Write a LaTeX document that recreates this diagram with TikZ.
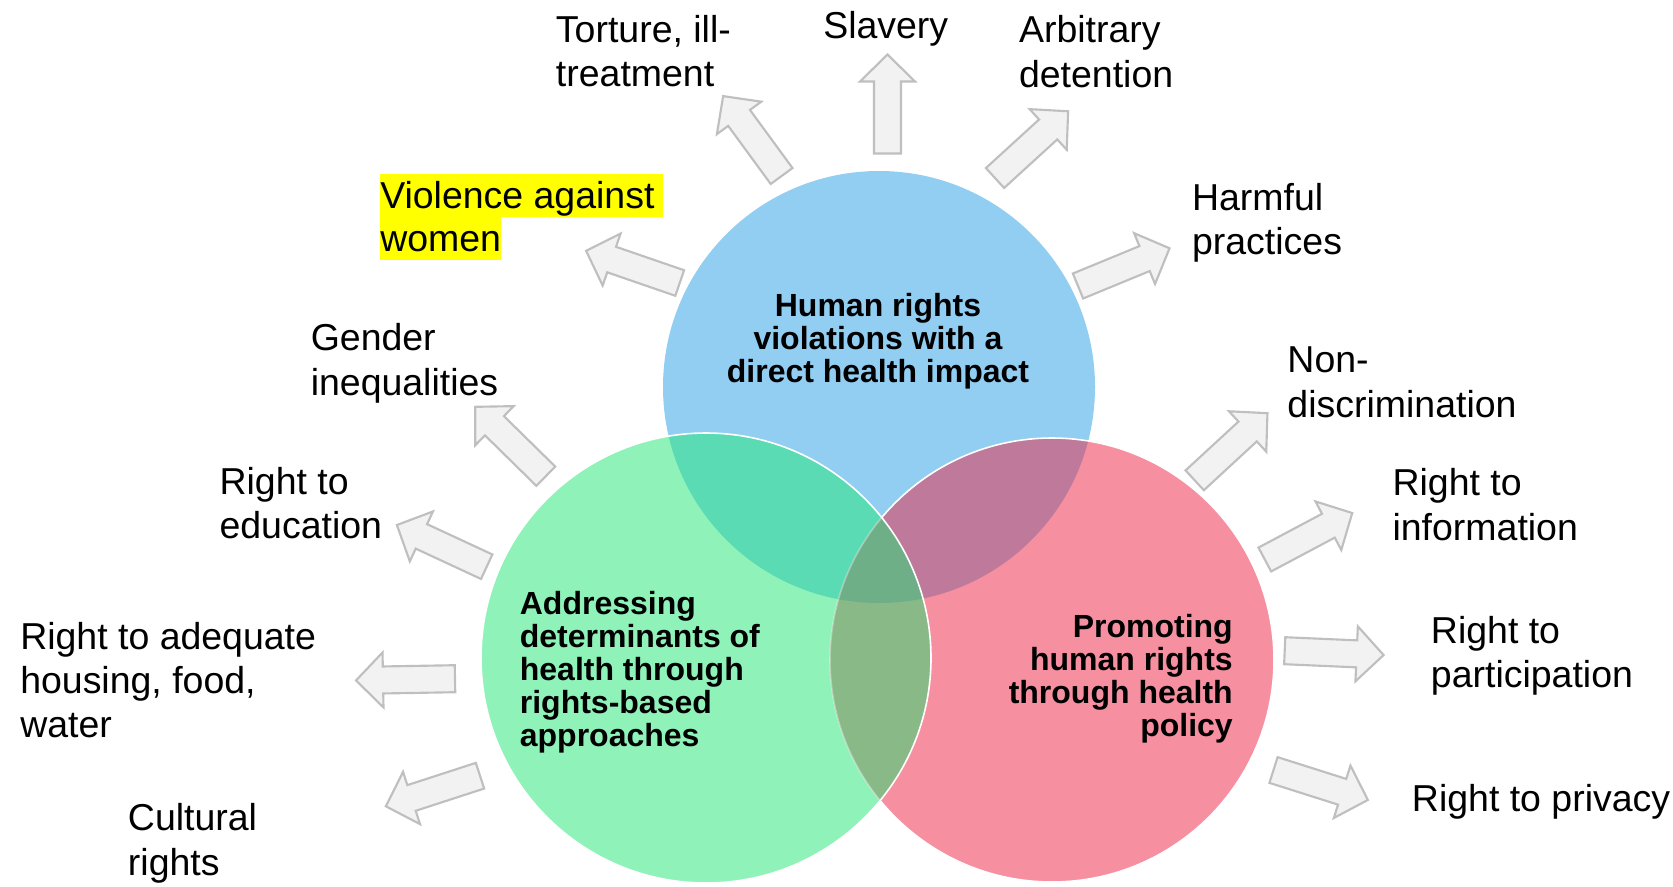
\documentclass[tikz,border=0pt]{standalone}
\usepackage{fontspec}
\setmainfont{Liberation Sans}
\definecolor{cblue}{HTML}{92CDF2}
\definecolor{cgreen}{HTML}{8FF2B9}
\definecolor{cpink}{HTML}{F690A0}
\definecolor{cbg}{HTML}{5BDBB4}
\definecolor{cbp}{HTML}{BF799A}
\definecolor{cgp}{HTML}{89B987}
\definecolor{cbgp}{HTML}{6EAF87}
\definecolor{arrowfill}{HTML}{F2F2F2}
\definecolor{arrowline}{HTML}{BFBFBF}
\definecolor{hilite}{HTML}{FFFF00}
\tikzset{
  arrowbox/.style={fill=arrowfill, draw=arrowline, line width=1.6pt, line join=miter},
  blockarrow/.pic={
    \path[arrowbox] (0pt,-10.125pt) -- (54pt,-10.125pt) -- (54pt,-20.625pt)
      -- (74.25pt,0pt) -- (54pt,20.625pt) -- (54pt,10.125pt) -- (0pt,10.125pt) -- cycle;
  },
  lbl/.style={font=\fontsize{28.1}{33.2}\selectfont, inner sep=0pt, align=left, anchor=north west},
  hl/.style={font=\fontsize{28.1}{33.2}\selectfont, inner sep=0pt, fill=hilite,
    text height=25.5pt, text depth=6.4pt, anchor=base west},
  ctext/.style={font=\bfseries\fontsize{24}{24.75}\selectfont, inner sep=0pt},
  rim/.style={draw=white, line width=1.2pt}
}
\begin{document}
\begin{tikzpicture}[x=0.75pt, y=-0.75pt]
\useasboundingbox (0,0) rectangle (1673,886);

% circle centres
\coordinate (B) at (879,387);
\coordinate (G) at (706,658);
\coordinate (P) at (1052,660);

% plain discs
\fill[cblue]  (B) circle[radius=216];
\fill[cgreen] (G) circle[radius=225];
\fill[cpink]  (P) circle[radius=222];
% pairwise overlaps
\begin{scope}
  \clip (B) circle[radius=216];
  \fill[cbg] (G) circle[radius=225];
  \fill[cbp] (P) circle[radius=222];
\end{scope}
\begin{scope}
  \clip (G) circle[radius=225];
  \fill[cgp] (P) circle[radius=222];
\end{scope}
% triple overlap
\begin{scope}
  \clip (B) circle[radius=216];
  \clip (G) circle[radius=225];
  \fill[cbgp] (P) circle[radius=222];
\end{scope}
% white rims
\begin{scope}
  \clip (0,0) rectangle (1673,886) (G) circle[radius=225];
  \draw[rim] (P) circle[radius=222];
\end{scope}
\begin{scope}
  \clip (G) circle[radius=225];
  \draw[rim, draw opacity=0.35] (P) circle[radius=222];
\end{scope}
\draw[rim] (G) circle[radius=225];

% circle captions
\node[ctext, align=center, anchor=north] (tB) at (878,293)
  {Human rights\\violations with a\\direct health impact};
\node[ctext, align=left, anchor=north west] (tG) at (519.6,591)
  {Addressing\\determinants of\\health through\\rights-based\\approaches};
\node[ctext, align=right, anchor=north east] (tP) at (1233,614.5)
  {Promoting\\human rights\\through health\\policy};

% arrow bases
\coordinate (a1)  at (781.6,176);
\coordinate (a2)  at (887.5,153.5);
\coordinate (a3)  at (995,178);
\coordinate (a4)  at (1078,286);
\coordinate (a5)  at (679.7,283);
\coordinate (a6)  at (545.8,476.2);
\coordinate (a7)  at (486.7,566.7);
\coordinate (a8)  at (455,678.7);
\coordinate (a9)  at (480,775.7);
\coordinate (a10) at (1194.7,480.3);
\coordinate (a11) at (1264.8,559.5);
\coordinate (a12) at (1284.7,650.7);
\coordinate (a13) at (1273.5,770);

\pic[rotate=126.2] at (a1)  {blockarrow};
\pic[rotate=90]    at (a2)  {blockarrow};
\pic[rotate=42.4]  at (a3)  {blockarrow};
\pic[rotate=22.4]  at (a4)  {blockarrow};
\pic[rotate=161]   at (a5)  {blockarrow};
\pic[rotate=135.5] at (a6)  {blockarrow};
\pic[rotate=155.1] at (a7)  {blockarrow};
\pic[rotate=181]   at (a8)  {blockarrow};
\pic[rotate=198]   at (a9)  {blockarrow};
\pic[rotate=42.7]  at (a10) {blockarrow};
\pic[rotate=28]    at (a11) {blockarrow};
\pic[rotate=-2.5]  at (a12) {blockarrow};
\pic[rotate=-17.6] at (a13) {blockarrow};

% outer labels
\node[lbl] (l1) at (555.7,15.1) {Torture, ill-\\treatment};
\node[lbl] (l2) at (823,10.7) {Slavery};
\node[lbl] (l3) at (1018.8,15.4) {Arbitrary\\detention};
\node[lbl] (l4) at (1191.8,182.7) {Harmful\\practices};
\node[hl]  (l5a) at (380,208) {Violence against\kern6pt};
\node[hl]  (l5b) at (380,251) {women};
\node[lbl] (l6) at (310.5,323.4) {Gender\\inequalities};
\node[lbl] (l7) at (219.3,466.7) {Right to\\education};
\node[lbl] (l8) at (20,621.7) {Right to adequate\\housing, food,\\water};
\node[lbl] (l9) at (127.7,803.4) {Cultural\\rights};
\node[lbl] (l10) at (1287.2,346.7) {Non-\\discrimination};
\node[lbl] (l11) at (1392.3,468.4) {Right to\\information};
\node[lbl] (l12) at (1430.7,616.1) {Right to\\participation};
\node[lbl, anchor=base west] (l13) at (1411.7,811.7) {Right to privacy};
\end{tikzpicture}
\end{document}
